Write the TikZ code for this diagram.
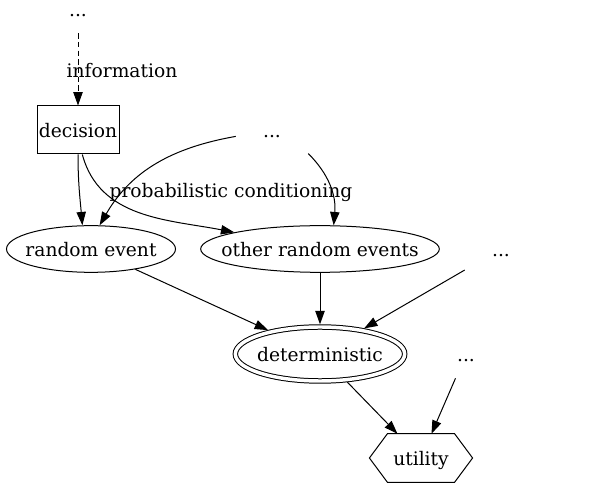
\documentclass[tikz,border=0pt]{standalone}
\usepackage{fontspec}
\setmainfont{DejaVu Serif}
\usepackage{tikz}
\usetikzlibrary{arrows.meta}
\usetikzlibrary{shapes.geometric}

\tikzset{
	gvtext/.style={font=\fontsize{14pt}{17pt}\selectfont, text height=12.5pt, text depth=1pt, inner sep=0pt},
	plain/.style={gvtext, minimum width=54pt, minimum height=36pt},
	chance/.style={ellipse, draw, line width=0.75pt, inner sep=0pt, minimum height=35pt},
	every label/.style={gvtext},
	edge/.style={-{Triangle[length=10pt,width=7pt]}, line width=0.75pt},
}

\begin{document}
\begin{tikzpicture}[x=0.75pt,y=-0.75pt]
		
			\useasboundingbox (0,0) rectangle (600,491);
		
			%--- NODES -----------------------------
		
		    % Loose ends
		    \node [plain] (dots1) at (78,9) {...};
		    \node [plain] (dots2) at (272,130) {...};
		    \node [plain] (dots3) at (501,249) {...};
		    \node [plain] (dots4) at (466,354) {...};
		    
		    % Decision box
		    \node [gvtext, draw, line width=0.75pt, minimum width=61.5pt, minimum height=36pt] (dec) at (78,130) {decision};
		    
		    % Random events
		    \node [chance, minimum width=126.75pt, label=center:random event] (rand) at (91,249) {};
		    \node [chance, minimum width=179pt, label=center:other random events] (other) at (320,249) {};
		    
		    % Deterministic (double ellipse)
		    \node [chance, double, double distance=2.6pt, outer sep=2pt, minimum width=127pt, minimum height=40.5pt, label=center:deterministic] (det) at (320,354) {};
		    
		    % Utility hexagon
		    \node [gvtext, minimum width=77pt, minimum height=36pt] (util) at (421,458) {utility};
		    \draw [line width=0.75pt] (util.west) -- ([xshift=13.5pt]util.north west) -- ([xshift=-13.5pt]util.north east) -- (util.east) -- ([xshift=-13.5pt]util.south east) -- ([xshift=13.5pt]util.south west) -- cycle;
		    
		    %--- ARROWS ----------------------------
		    
		    % Information
		    \draw [edge, dash pattern=on 4pt off 2.5pt] (dots1) -- node [gvtext, xshift=33pt] (infolab) {information} (dec);
		    
		    % Conditioning curves
		    \draw [edge] (dec.south) to [out=-90, in=95] (rand.110);
		    \draw [edge] (dec.-80) to [out=-75, in=169] (other.169);
		    \draw [edge] (dots2.190) to [out=190, in=60] (rand.70);
		    \draw [edge] (dots2.-33) to [out=-45, in=85] (other.60);
		    \node [gvtext] (condlab) at (231,190) {probabilistic conditioning};
		    
		    % Straight arrows
		    \draw [edge] (rand) -- (det);
		    \draw [edge] (other) -- (det);
		    \draw [edge] (dots3) -- (det);
		    \draw [edge] (det) -- (util);
		    \draw [edge] (dots4) -- (util);
		    
		\end{tikzpicture}
\end{document}
